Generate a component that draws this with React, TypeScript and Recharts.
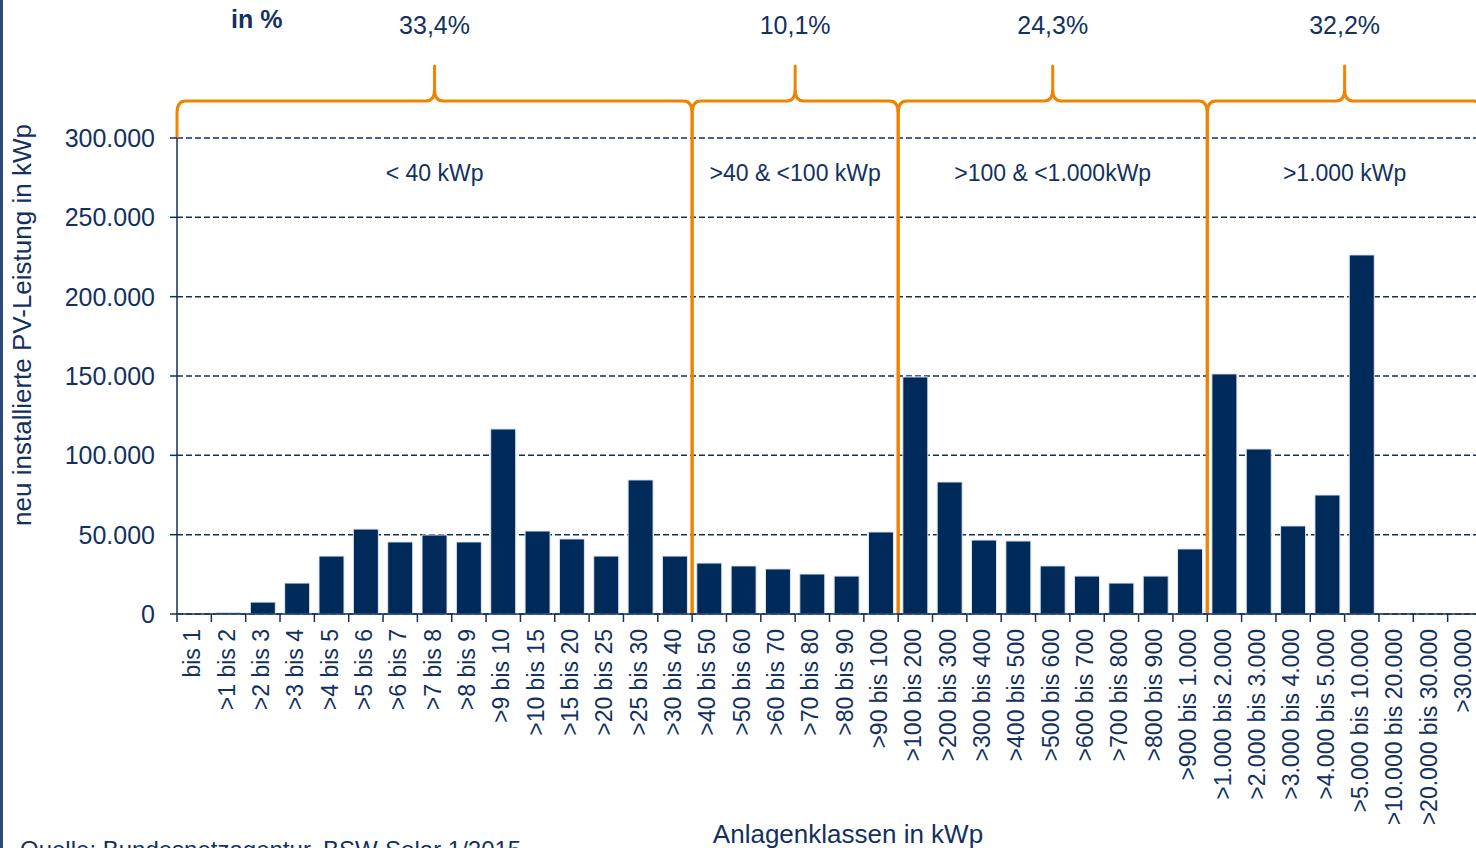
import { Bar, BarChart, CartesianGrid, Label, ReferenceArea, XAxis, YAxis } from "recharts";

const categories = [
  "bis 1", ">1 bis 2", ">2 bis 3", ">3 bis 4", ">4 bis 5", ">5 bis 6", ">6 bis 7", ">7 bis 8",
  ">8 bis 9", ">9 bis 10", ">10 bis 15", ">15 bis 20", ">20 bis 25", ">25 bis 30", ">30 bis 40",
  ">40 bis 50", ">50 bis 60", ">60 bis 70", ">70 bis 80", ">80 bis 90", ">90 bis 100",
  ">100 bis 200", ">200 bis 300", ">300 bis 400", ">400 bis 500", ">500 bis 600", ">600 bis 700",
  ">700 bis 800", ">800 bis 900", ">900 bis 1.000",
  ">1.000 bis 2.000", ">2.000 bis 3.000", ">3.000 bis 4.000", ">4.000 bis 5.000",
  ">5.000 bis 10.000", ">10.000 bis 20.000", ">20.000 bis 30.000", ">30.000",
];

const installedKWp = [
  0, 1000, 7500, 19500, 36500, 53500, 45400, 49800,
  45400, 116600, 52300, 47300, 36500, 84500, 36500,
  32100, 30300, 28400, 25200, 23900, 51700,
  149400, 83200, 46600, 46000, 30300, 23900,
  19500, 23900, 41000,
  151300, 104000, 55500, 75000,
  226300, 0, 0, 0,
];

const yTicks = [0, 50000, 100000, 150000, 200000, 250000, 300000];

const groupNames = ["< 40 kWp", ">40 & <100 kWp", ">100 & <1.000kWp", ">1.000 kWp"];
const groupShares = ["33,4%", "10,1%", "24,3%", "32,2%"];
const groupFirst = ["bis 1", ">40 bis 50", ">100 bis 200", ">1.000 bis 2.000"];
const groupLast = [">30 bis 40", ">90 bis 100", ">900 bis 1.000", ">30.000"];

const data = categories.map((name, i) => ({ name, value: installedKWp[i] }));

const NAVY = "#002a5a";
const TEXT = "#13315f";
const ORANGE = "#f08300";
const FONT = "'Liberation Sans', Arial, sans-serif";

const fmt = (v: number) => v.toLocaleString("de-DE");

function XTick(props: any) {
  const { x, y, payload, index } = props;
  const half = payload?.offset ?? 17;
  const last = index === categories.length - 1;
  return (
    <g>
      <line x1={x - half} x2={x - half} y1={y} y2={y + 8} stroke={TEXT} strokeWidth={1.5} />
      {last && <line x1={x + half} x2={x + half} y1={y} y2={y + 8} stroke={TEXT} strokeWidth={1.5} />}
      <text
        x={x}
        y={y + 15}
        transform={`rotate(-90 ${x} ${y + 15})`}
        textAnchor="end"
        dominantBaseline="middle"
        fill={TEXT}
        fontSize={23}
        fontFamily={FONT}
      >
        {payload.value}
      </text>
    </g>
  );
}

function braceShape(gi: number) {
  return (props: any) => {
    const { x, y, width, height } = props;
    const x0 = x;
    const x1 = x + width;
    const cx = x + width / 2;
    const hy = y - 37;
    const peak = y - 72;
    const r = 12;
    const leftBottom = gi === 0 ? y : y + height;
    const d = [
      `M ${x0} ${leftBottom}`,
      `L ${x0} ${hy + r}`,
      `Q ${x0} ${hy} ${x0 + r * 0.7} ${hy}`,
      `L ${cx - r * 0.7} ${hy}`,
      `Q ${cx} ${hy} ${cx} ${hy - r}`,
      `L ${cx} ${peak}`,
      `L ${cx} ${hy - r}`,
      `Q ${cx} ${hy} ${cx + r * 0.7} ${hy}`,
      `L ${x1 - r * 0.7} ${hy}`,
      `Q ${x1} ${hy} ${x1} ${hy + r}`,
      `L ${x1} ${y + height}`,
    ].join(" ");
    return (
      <g>
        <path d={d} fill="none" stroke={ORANGE} strokeWidth={3} strokeLinejoin="round" />
        <text x={cx} y={y - 104} textAnchor="middle" fill={TEXT} fontSize={25} fontFamily={FONT}>
          {groupShares[gi]}
        </text>
        <text x={cx} y={y + 43} textAnchor="middle" fill={TEXT} fontSize={23} fontFamily={FONT}>
          {groupNames[gi]}
        </text>
      </g>
    );
  };
}

export default function App() {
  return (
    <div
      style={{
        position: "fixed",
        left: 0,
        top: 0,
        width: 1476,
        height: 848,
        overflow: "hidden",
        background: "#ffffff",
        fontFamily: FONT,
      }}
    >
      <div style={{ position: "absolute", left: 0, top: 0, width: 3, height: 848, background: "#2d4a7a" }} />
      <div
        style={{
          position: "absolute",
          left: 231,
          top: 4,
          fontSize: 25,
          fontWeight: "bold",
          color: TEXT,
          lineHeight: "30px",
        }}
      >
        in %
      </div>
      <BarChart
        width={1482}
        height={848}
        data={data}
        margin={{ top: 138, right: 0, bottom: 0, left: 0 }}
        barCategoryGap="13.5%"
      >
        <CartesianGrid vertical={false} stroke={TEXT} strokeDasharray="6 3" strokeWidth={1.5} />
        <XAxis
          dataKey="name"
          interval={0}
          height={234}
          tickLine={false}
          tickSize={0}
          tickMargin={0}
          axisLine={{ stroke: TEXT, strokeWidth: 1.5 }}
          tick={<XTick />}
        >
          <Label
            content={() => (
              <text x={848} y={843} textAnchor="middle" fill={TEXT} fontSize={26} fontFamily={FONT}>
                Anlagenklassen in kWp
              </text>
            )}
          />
        </XAxis>
        <YAxis
          width={177}
          domain={[0, 300000]}
          ticks={yTicks}
          tickFormatter={fmt}
          tickSize={7}
          tickMargin={15}
          tick={{ fill: TEXT, fontSize: 25, fontFamily: FONT }}
          tickLine={{ stroke: TEXT, strokeWidth: 1.5 }}
          axisLine={{ stroke: TEXT, strokeWidth: 1.5 }}
        >
          <Label
            content={() => (
              <text
                x={31}
                y={325}
                transform="rotate(-90 31 325)"
                textAnchor="middle"
                fill={TEXT}
                fontSize={26}
                fontFamily={FONT}
              >
                neu installierte PV-Leistung in kWp
              </text>
            )}
          />
        </YAxis>
        <Bar dataKey="value" fill={NAVY} stroke="#dfe6ee" strokeWidth={1} isAnimationActive={false} />
        {groupNames.map((g, gi) => (
          <ReferenceArea
            key={g}
            x1={groupFirst[gi]}
            x2={groupLast[gi]}
            y1={0}
            y2={300000}
            ifOverflow="visible"
            shape={braceShape(gi)}
          />
        ))}
      </BarChart>
      <div
        style={{
          position: "absolute",
          left: 20,
          top: 836,
          fontSize: 24,
          color: TEXT,
          whiteSpace: "nowrap",
          lineHeight: "28px",
        }}
      >
        Quelle: Bundesnetzagentur, BSW-Solar 1/2015
      </div>
    </div>
  );
}
